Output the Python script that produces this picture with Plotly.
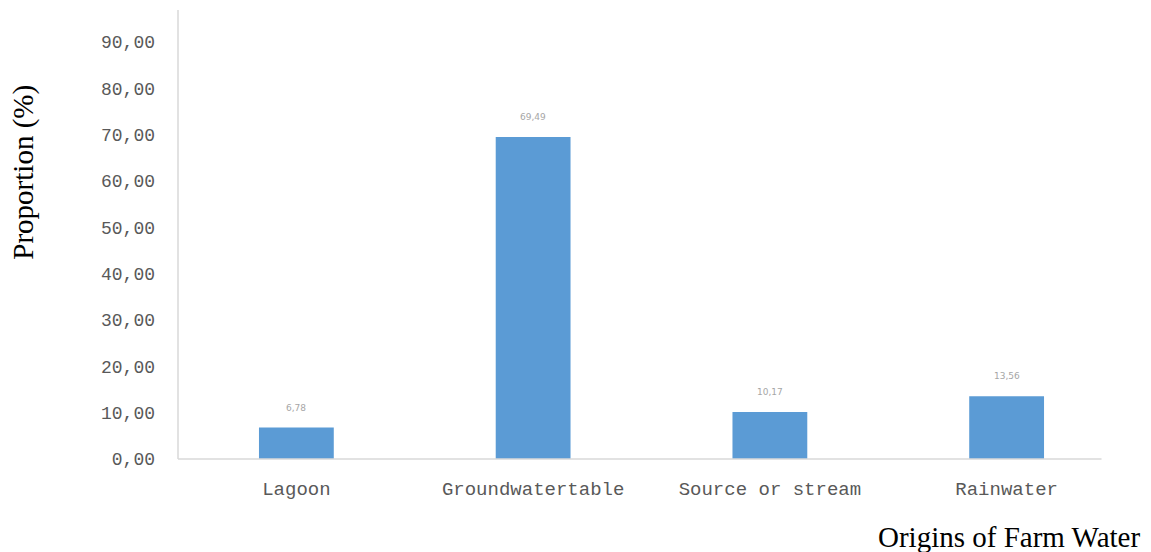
import plotly.graph_objects as go

categories = ["Lagoon", "Groundwatertable", "Source or stream", "Rainwater"]
proportions = [6.78, 69.49, 10.17, 13.56]
y_ticks = [0, 10, 20, 30, 40, 50, 60, 70, 80, 90]
y_tick_text = ["0,00", "10,00", "20,00", "30,00", "40,00", "50,00", "60,00", "70,00", "80,00", "90,00"]

W, H = 1151, 552
m_l, m_r, m_t, m_b = 177.5, 25.5, 10, 93

fig = go.Figure()
fig.add_trace(go.Bar(
    x=list(range(len(categories))),
    y=proportions,
    width=0.316,
    marker=dict(color="#5b9bd5", line=dict(width=0)),
    hoverinfo="skip",
))

# value labels above each bar, comma decimal separator
for i, v in enumerate(proportions):
    fig.add_annotation(
        x=i, y=v, xref="x", yref="y",
        text=f"{v:.2f}".replace(".", ","),
        showarrow=False, yshift=20,
        font=dict(family="DejaVu Sans", size=9, color="#a6a6a6"),
    )

plot_w = W - m_l - m_r
plot_h = H - m_t - m_b
axis_end = (1102 - m_l) / plot_w

# thin grey axis lines
fig.add_shape(type="line", xref="paper", yref="paper", x0=0, x1=axis_end, y0=0, y1=0,
              line=dict(color="#d9d9d9", width=1.5))
fig.add_shape(type="line", xref="paper", yref="paper", x0=0, x1=0, y0=0, y1=1,
              line=dict(color="#d9d9d9", width=1.5))

fig.add_annotation(
    text="Proportion (%)", xref="paper", yref="paper",
    x=(22 - m_l) / plot_w, y=(H - m_b - 172) / plot_h,
    xanchor="center", yanchor="middle",
    textangle=-90, showarrow=False,
    font=dict(family="Liberation Serif", size=29, color="#000000"),
)
fig.add_annotation(
    text="Origins of Farm Water", xref="paper", yref="paper",
    x=(1009 - m_l) / plot_w, y=(H - m_b - 537) / plot_h,
    xanchor="center", yanchor="middle",
    showarrow=False,
    font=dict(family="Liberation Serif", size=29, color="#000000"),
)

fig.update_layout(
    width=W, height=H,
    margin=dict(l=m_l, r=m_r, t=m_t, b=m_b),
    plot_bgcolor="white", paper_bgcolor="white",
    showlegend=False,
    xaxis=dict(
        range=[-0.5, 3.5],
        tickvals=list(range(len(categories))),
        ticktext=categories,
        showgrid=False, zeroline=False, showline=False,
        ticks="", ticklabelstandoff=16,
        tickfont=dict(family="Liberation Mono", size=19, color="#595959"),
        fixedrange=True,
    ),
    yaxis=dict(
        range=[0, 96.9],
        tickvals=y_ticks, ticktext=y_tick_text,
        showgrid=False, zeroline=False, showline=False,
        ticks="", ticklabelstandoff=22,
        tickfont=dict(family="Liberation Mono", size=18, color="#595959"),
        fixedrange=True,
    ),
)

fig.write_html("out.html")
